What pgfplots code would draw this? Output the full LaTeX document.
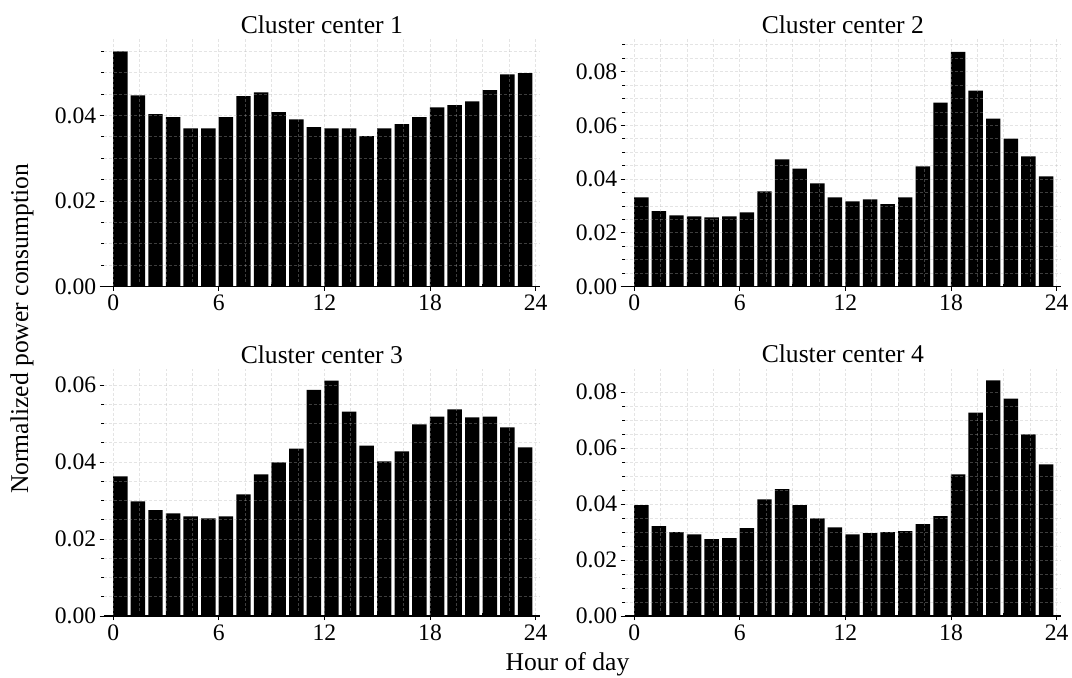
\documentclass[border=0pt]{standalone}
\usepackage{fontspec}
\setmainfont{Liberation Serif}
\usepackage{pgfplots}
\usepackage{pgfplotstable}
\pgfplotsset{compat=1.18}

\pgfplotstableread{
h v
0 0.0550
1 0.0447
2 0.0403
3 0.0396
4 0.0370
5 0.0370
6 0.0396
7 0.0445
8 0.0454
9 0.0408
10 0.0391
11 0.0373
12 0.0370
13 0.0370
14 0.0352
15 0.0370
16 0.0380
17 0.0396
18 0.0419
19 0.0424
20 0.0433
21 0.0459
22 0.0496
23 0.0499
}\tA

\pgfplotstableread{
h v
0 0.0333
1 0.0281
2 0.0266
3 0.0262
4 0.0258
5 0.0262
6 0.0277
7 0.0355
8 0.0474
9 0.0440
10 0.0385
11 0.0333
12 0.0318
13 0.0325
14 0.0307
15 0.0333
16 0.0448
17 0.0685
18 0.0874
19 0.0730
20 0.0626
21 0.0551
22 0.0485
23 0.0411
}\tB

\pgfplotstableread{
h v
0 0.0363
1 0.0298
2 0.0275
3 0.0267
4 0.0259
5 0.0254
6 0.0259
7 0.0316
8 0.0368
9 0.0399
10 0.0435
11 0.0588
12 0.0612
13 0.0531
14 0.0443
15 0.0402
16 0.0428
17 0.0498
18 0.0518
19 0.0537
20 0.0516
21 0.0518
22 0.0490
23 0.0438
}\tC

\pgfplotstableread{
h v
0 0.0396
1 0.0321
2 0.0300
3 0.0292
4 0.0275
5 0.0278
6 0.0314
7 0.0417
8 0.0453
9 0.0396
10 0.0349
11 0.0317
12 0.0292
13 0.0296
14 0.0300
15 0.0303
16 0.0328
17 0.0357
18 0.0506
19 0.0727
20 0.0842
21 0.0777
22 0.0649
23 0.0542
}\tD

\newcommand{\tickfont}{\fontsize{11.8}{13}\selectfont}
\newcommand{\labfont}{\fontsize{12.8}{14}\selectfont}

\pgfplotsset{
  cc/.style={
    scale only axis, width=218.2pt, height=123.7pt,
    anchor=south west,
    xmin=-0.55, xmax=24.25, ymin=0,
    axis x line*=bottom, axis y line*=left,
    x axis line style={-, line width=0.6pt},
    y axis line style={draw=none},
    xtick={0,6,12,18,24}, minor x tick num=3,
    ytick distance=0.02, minor y tick num=3,
    scaled y ticks=false,
    yticklabel style={/pgf/number format/fixed, /pgf/number format/fixed zerofill, /pgf/number format/precision=2},
    /pgf/number format/assume math mode=true,
    tick label style={font=\tickfont},
    xticklabel style={inner sep=2pt},
    yticklabel style={inner sep=1.5pt},
    tick align=outside,
    major tick length=2pt, minor tick length=1.2pt,
    tick style={line width=0.5pt, black},
    minor x tick style={yshift=1.5pt},
    grid=both,
    major grid style={dash pattern=on 1.5pt off 1pt, black!30, opacity=0.35, line width=0.5pt},
    minor grid style={dash pattern=on 1.5pt off 1pt, black!30, opacity=0.35, line width=0.5pt},
    axis on top,
    every axis title shift=0pt,
    title style={at={(0.5,1)}, anchor=base, yshift=2.8pt, inner sep=0pt, font=\labfont},
    ybar, bar width=0.82,
  },
  bb/.style={fill=black, draw=none},
}

\begin{document}
\begin{tikzpicture}
\useasboundingbox (0,0) rectangle (536pt,338.5pt);

\begin{axis}[cc, at={(51.8pt,195.15pt)}, ymax=0.0578, title={Cluster center 1}]
\addplot[bb] table[x expr=\thisrow{h}+0.4, y=v] {\tA};
\end{axis}

\begin{axis}[cc, at={(312.3pt,195.15pt)}, ymax=0.0921, title={Cluster center 2}]
\addplot[bb] table[x expr=\thisrow{h}+0.4, y=v] {\tB};
\end{axis}

\begin{axis}[cc, at={(51.8pt,30.5pt)}, ymax=0.0643, title={Cluster center 3}]
\addplot[bb] table[x expr=\thisrow{h}+0.4, y=v] {\tC};
\end{axis}

\begin{axis}[cc, at={(312.3pt,30.5pt)}, ymax=0.0884, title={Cluster center 4}]
\addplot[bb] table[x expr=\thisrow{h}+0.4, y=v] {\tD};
\end{axis}

\node[rotate=90, font=\labfont] at (11pt,174pt) {Normalized power consumption};
\node[anchor=base, font=\labfont] at (283.75pt,3.5pt) {Hour of day};
\end{tikzpicture}
\end{document}
